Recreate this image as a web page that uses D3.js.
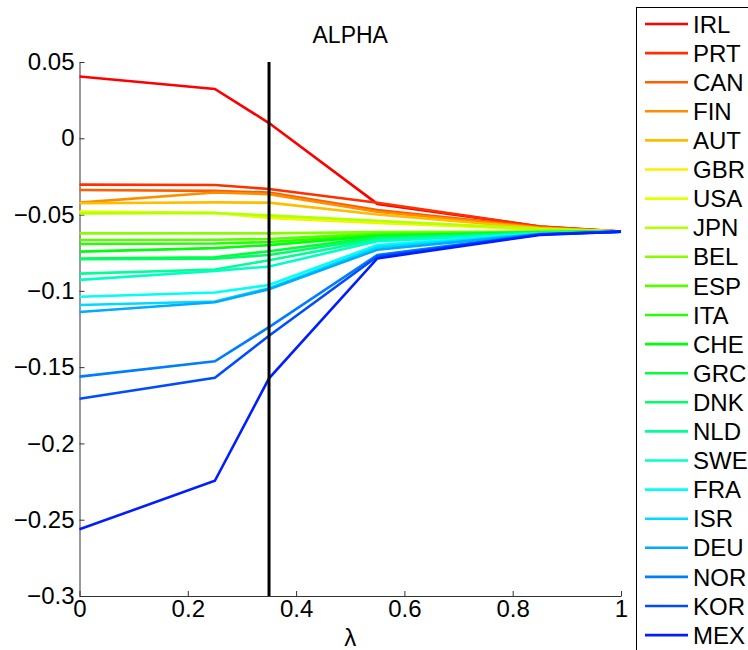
<!DOCTYPE html>
<html>
<head>
<meta charset="utf-8">
<script src="https://cdn.jsdelivr.net/npm/d3@7"></script>
<style>
  html, body { margin: 0; padding: 0; background: #fff; }
  svg { display: block; font-family: "Liberation Sans", Arial, Helvetica, sans-serif; }
</style>
</head>
<body>
<svg id="chart" width="748" height="650"></svg>
<script>
// ---- data ----
const titleText = "ALPHA";
const xLabel = "λ";
const lambdaValues = [0, 0.25, 0.35, 0.55, 0.85, 1];
const selectedLambda = 0.35;
const countries = ["IRL","PRT","CAN","FIN","AUT","GBR","USA","JPN","BEL","ESP","ITA",
                   "CHE","GRC","DNK","NLD","SWE","FRA","ISR","DEU","NOR","KOR","MEX"];
const alphaValues = [
  [ 0.0405,  0.0323,  0.0100, -0.0430, -0.0578, -0.0612], // IRL
  [-0.0304, -0.0306, -0.0332, -0.0422, -0.0578, -0.0612], // PRT
  [-0.0339, -0.0345, -0.0356, -0.0470, -0.0583, -0.0612], // CAN
  [-0.0422, -0.0355, -0.0366, -0.0482, -0.0586, -0.0612], // FIN
  [-0.0426, -0.0420, -0.0422, -0.0500, -0.0590, -0.0612], // AUT
  [-0.0480, -0.0488, -0.0522, -0.0555, -0.0598, -0.0612], // GBR
  [-0.0485, -0.0490, -0.0518, -0.0548, -0.0596, -0.0612], // USA
  [-0.0492, -0.0490, -0.0505, -0.0540, -0.0594, -0.0612], // JPN
  [-0.0623, -0.0623, -0.0623, -0.0615, -0.0612, -0.0612], // BEL
  [-0.0667, -0.0665, -0.0660, -0.0625, -0.0614, -0.0612], // ESP
  [-0.0693, -0.0690, -0.0680, -0.0635, -0.0616, -0.0612], // ITA
  [-0.0743, -0.0720, -0.0700, -0.0640, -0.0617, -0.0612], // CHE
  [-0.0788, -0.0780, -0.0740, -0.0648, -0.0618, -0.0612], // GRC
  [-0.0793, -0.0790, -0.0765, -0.0655, -0.0620, -0.0612], // DNK
  [-0.0887, -0.0860, -0.0800, -0.0665, -0.0621, -0.0612], // NLD
  [-0.0928, -0.0870, -0.0840, -0.0675, -0.0622, -0.0612], // SWE
  [-0.1039, -0.1011, -0.0962, -0.0700, -0.0624, -0.0612], // FRA
  [-0.1093, -0.1070, -0.0983, -0.0715, -0.0626, -0.0612], // ISR
  [-0.1139, -0.1075, -0.0990, -0.0730, -0.0627, -0.0612], // DEU
  [-0.1562, -0.1462, -0.1238, -0.0765, -0.0629, -0.0612], // NOR
  [-0.1707, -0.1569, -0.1294, -0.0775, -0.0631, -0.0612], // KOR
  [-0.2563, -0.2245, -0.1573, -0.0787, -0.0633, -0.0612]  // MEX
];
const xTicks = [0, 0.2, 0.4, 0.6, 0.8, 1];
const yTicks = [0.05, 0, -0.05, -0.1, -0.15, -0.2, -0.25, -0.3];

// ---- layout ----
const svg = d3.select("#chart");
const x = d3.scaleLinear().domain([0, 1]).range([79.5, 621]);
const y = d3.scaleLinear().domain([-0.3, 0.05]).range([596, 62]);
const hueEnd = 233;
const color = i => d3.hsl(i * hueEnd / (countries.length - 1), 1, 0.5).formatHex();
const fontSize = 24;
const titleSize = 23;
const fmt = v => {
  let s = d3.format("")(+v.toFixed(2));
  return s.replace("-", "\u2212");
};

// axes
const yAxis = d3.axisLeft(y).tickValues(yTicks).tickSizeInner(-5).tickSizeOuter(0)
  .tickPadding(5).tickFormat(fmt);
const xAxis = d3.axisBottom(x).tickValues(xTicks).tickSizeInner(-5).tickSizeOuter(0)
  .tickPadding(4).tickFormat(fmt);

const gy = svg.append("g").attr("transform", `translate(${x(0)},0)`).call(yAxis);
const gx = svg.append("g").attr("transform", `translate(0,${y(-0.3)})`).call(xAxis);
[gx, gy].forEach(g => {
  g.selectAll("path.domain").attr("stroke", "#333").attr("stroke-width", 1);
  g.selectAll(".tick line").attr("stroke", "#333").attr("stroke-width", 1);
  g.selectAll(".tick text").attr("font-size", fontSize).attr("fill", "#000")
    .attr("font-family", "'Liberation Sans', Arial, sans-serif");
});

// series lines
const line = d3.line().x((d, i) => x(lambdaValues[i])).y(d => y(d));
svg.append("g").selectAll("path").data(alphaValues).join("path")
  .attr("d", d => line(d))
  .attr("fill", "none")
  .attr("stroke", (d, i) => color(i))
  .attr("stroke-width", 2.6)
  .attr("stroke-linejoin", "miter");

// selected lambda line
svg.append("line")
  .attr("x1", x(selectedLambda)).attr("x2", x(selectedLambda))
  .attr("y1", y(0.05)).attr("y2", y(-0.3))
  .attr("stroke", "#000").attr("stroke-width", 3);

// title
svg.append("text").attr("x", (x(0) + x(1)) / 2).attr("y", 43)
  .attr("text-anchor", "middle").attr("font-size", titleSize).text(titleText);
// x label
svg.append("text").attr("x", (x(0) + x(1)) / 2).attr("y", 646)
  .attr("text-anchor", "middle").attr("font-size", fontSize).text(xLabel);

// legend
const lg = svg.append("g");
lg.append("rect").attr("x", 636.5).attr("y", 7.5).attr("width", 200).attr("height", 700)
  .attr("fill", "#fff").attr("stroke", "#000").attr("stroke-width", 1);
const rows = lg.selectAll("g.row").data(countries).join("g").attr("class", "row")
  .attr("transform", (d, i) => `translate(0,${24 + i * 29.1})`);
rows.append("line").attr("x1", 645).attr("x2", 688).attr("y1", 0).attr("y2", 0)
  .attr("stroke", (d, i) => color(i)).attr("stroke-width", 2.6);
rows.append("text").attr("x", 693).attr("y", 0).attr("dy", "0.36em")
  .attr("font-size", fontSize).text(d => d);
</script>
</body>
</html>
